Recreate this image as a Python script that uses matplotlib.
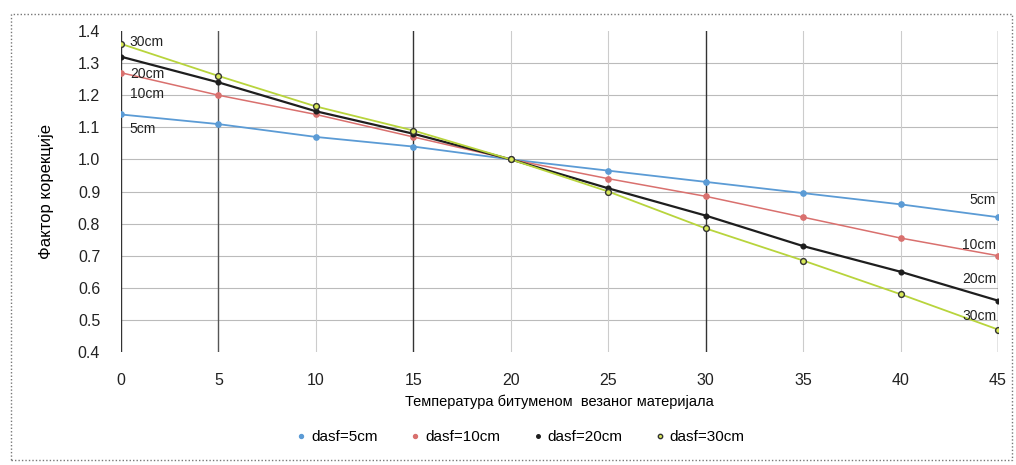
import matplotlib
matplotlib.use("Agg")
import matplotlib.pyplot as plt
from matplotlib.patches import Rectangle

# temperature of the bituminous material
temps = [0, 5, 10, 15, 20, 25, 30, 35, 40, 45]

# correction factor per layer thickness
f_5cm = [1.14, 1.11, 1.07, 1.04, 1.00, 0.965, 0.93, 0.895, 0.86, 0.82]
f_10cm = [1.27, 1.20, 1.14, 1.07, 1.00, 0.94, 0.885, 0.82, 0.755, 0.70]
f_20cm = [1.32, 1.24, 1.15, 1.08, 1.00, 0.91, 0.825, 0.73, 0.65, 0.56]
f_30cm = [1.36, 1.26, 1.165, 1.09, 1.00, 0.90, 0.785, 0.685, 0.58, 0.47]

series_names = ["dasf=5cm", "dasf=10cm", "dasf=20cm", "dasf=30cm"]
short_names = ["5cm", "10cm", "20cm", "30cm"]

x_ticks = [0, 5, 10, 15, 20, 25, 30, 35, 40, 45]
y_ticks = [0.4, 0.5, 0.6, 0.7, 0.8, 0.9, 1.0, 1.1, 1.2, 1.3, 1.4]

plt.rcParams['font.family'] = ['Liberation Sans', 'DejaVu Sans']

fig = plt.figure(figsize=(10.16, 4.65), dpi=100)
ax = fig.add_axes([0.1191, 0.243, 0.8632, 0.6903])

# dotted frame round the whole chart
fig.patches.append(Rectangle((0.011, 0.01), 0.985, 0.96, transform=fig.transFigure,
                             fill=False, linestyle=(0, (1, 1.5)), linewidth=1.0,
                             edgecolor="#777777"))

# grid: horizontal light, vertical mixed
for y in y_ticks[1:-1]:
    ax.axhline(y, color="#bbbbbb", linewidth=0.8, zorder=0)
dark_x = {0: "#333333", 5: "#555555", 15: "#333333", 30: "#333333", 45: "#777777"}
for x in x_ticks:
    ax.axvline(x, color=dark_x.get(x, "#cccccc"), linewidth=1.0 if x in dark_x else 0.8, zorder=0)

ax.plot(temps, f_5cm, color="#5B9BD5", linewidth=1.3, marker="o", markersize=3.8,
        markerfacecolor="#5B9BD5", markeredgecolor="#5B9BD5", label=series_names[0])
ax.plot(temps, f_10cm, color="#D9706E", linewidth=1.1, marker="o", markersize=3.8,
        markerfacecolor="#D9706E", markeredgecolor="#D9706E", label=series_names[1])
ax.plot(temps, f_20cm, color="#1e1e1e", linewidth=1.6, marker="o", markersize=3.4,
        markerfacecolor="#1e1e1e", markeredgecolor="#1e1e1e", label=series_names[2])
ax.plot(temps, f_30cm, color="#B8D43C", linewidth=1.3, marker="o", markersize=4.2,
        markerfacecolor="#D8E85A", markeredgecolor="#333333", markeredgewidth=1.0,
        label=series_names[3])

# thickness labels on both ends
left_y = [1.094, 1.205, 1.267, 1.367]
right_y = [0.875, 0.734, 0.627, 0.511]
for name, yl, yr in zip(short_names, left_y, right_y):
    ax.text(0.45, yl, name, fontsize=10, ha="left", va="center", color="#222222")
    ax.text(44.9, yr, name, fontsize=10, ha="right", va="center", color="#222222")

ax.set_xlim(0, 45)
ax.set_ylim(0.4, 1.4)
ax.set_xticks(x_ticks)
ax.set_yticks(y_ticks)
ax.set_yticklabels([f"{v:.1f}" for v in y_ticks])
ax.tick_params(axis="both", length=0, labelsize=11.5, colors="#222222")
ax.tick_params(axis="x", pad=15)
ax.tick_params(axis="y", pad=15)
for s in ax.spines.values():
    s.set_visible(False)

ax.set_xlabel("Температура битуменом  везаног материјала", fontsize=10.5, labelpad=5)
ax.set_ylabel("Фактор корекције", fontsize=12, labelpad=17)

fig.legend(loc="center", bbox_to_anchor=(0.513, 0.06), ncol=4, frameon=False,
           fontsize=11, handlelength=0.5, handletextpad=0.4, columnspacing=2.2,
           markerscale=0.75)
# keep only markers in legend
for h in fig.legends[0].legend_handles:
    h.set_linestyle("None")

fig.savefig("out.png", dpi=100)
